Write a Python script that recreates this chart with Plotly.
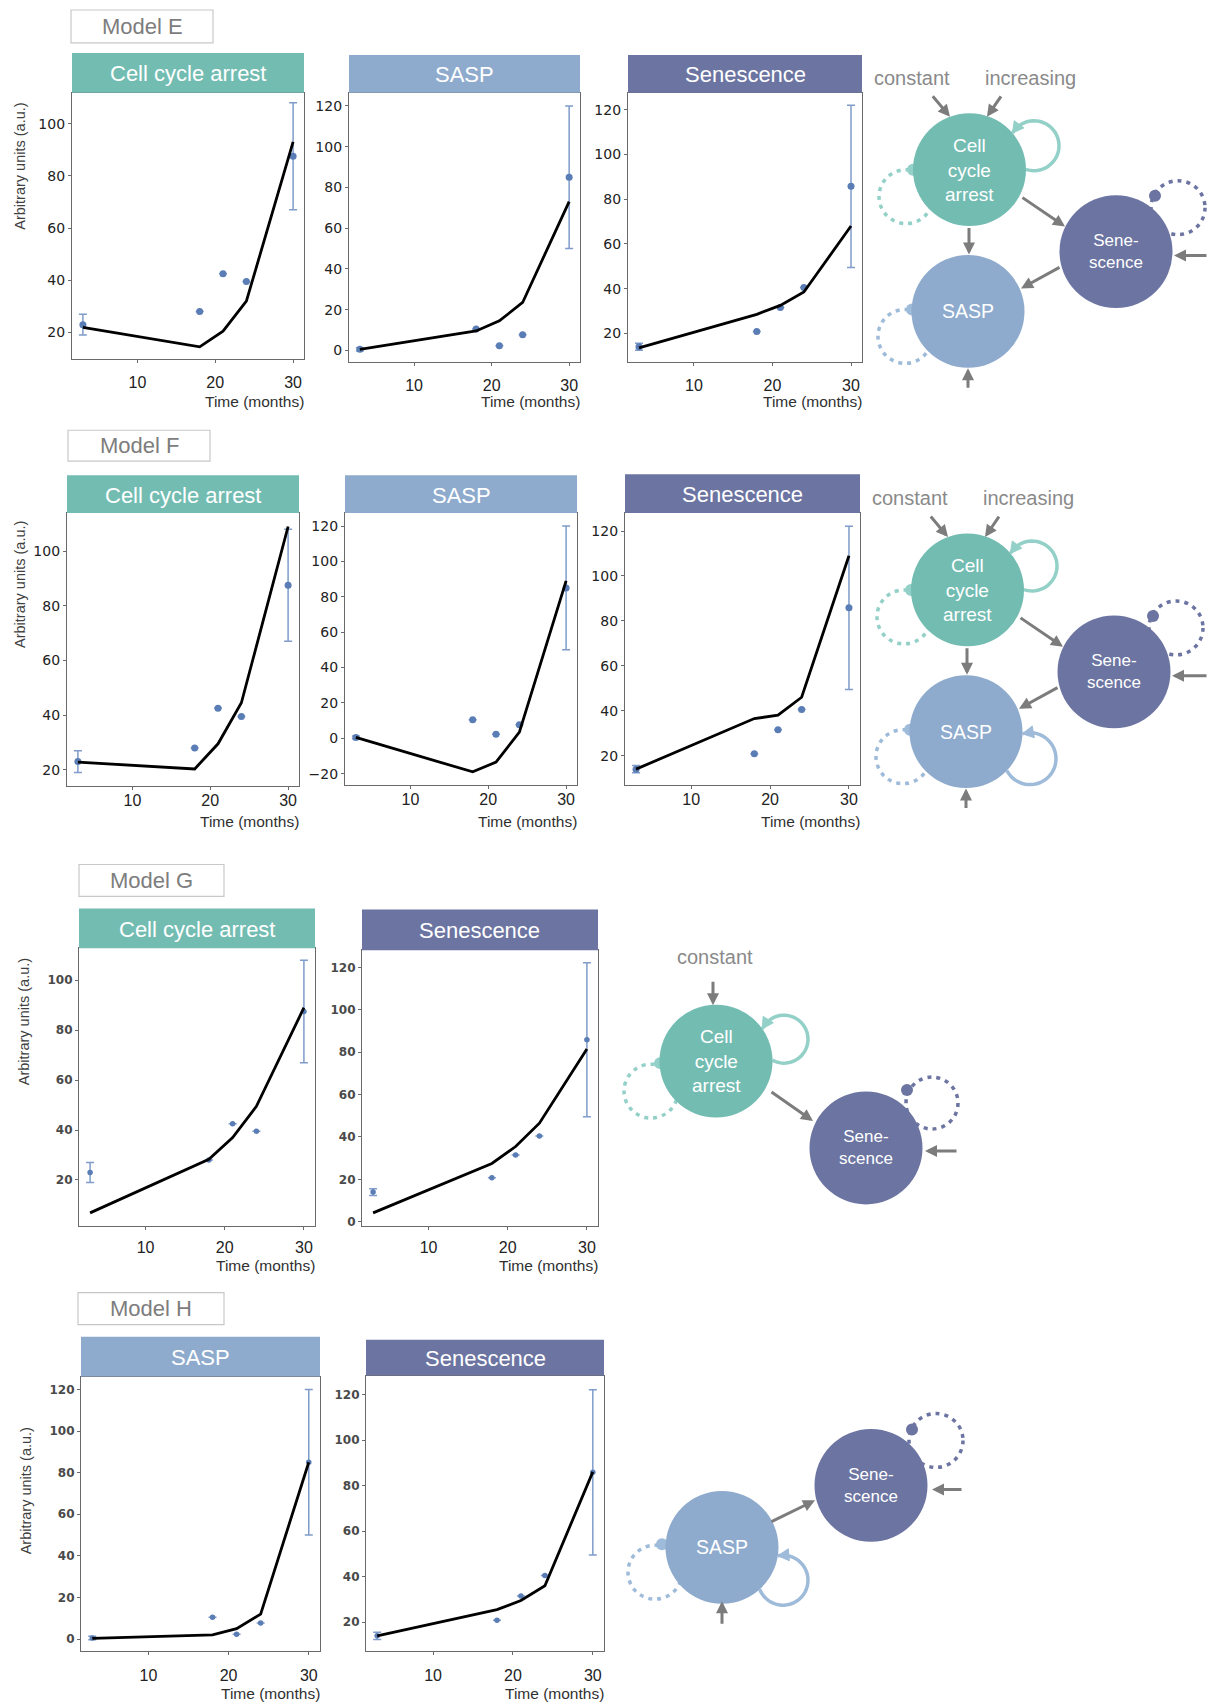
import math
import plotly.graph_objects as go

# ---------------- data ----------------
months = [3, 18, 21, 24, 30]
x_tick_values = [10, 20, 30]

obs_cca = [23.0, 28.0, 42.5, 39.5, 87.5]
obs_cca_err = [4.0, None, None, None, 20.5]
obs_sasp = [0.5, 10.5, 2.3, 7.7, 85.0]
obs_sasp_err = [0.8, None, None, None, 35.0]
obs_sen = [14.0, 20.8, 31.5, 40.5, 85.8]
obs_sen_err = [1.6, None, None, None, 36.3]

fit_E_cca = [22.0, 14.5, 20.5, 32.0, 93.0]
fit_E_sasp = [0.5, 9.5, 14.5, 23.5, 73.0]
fit_E_sen = [13.5, 28.5, 32.5, 38.5, 68.0]
fit_F_cca = [22.8, 20.3, 29.5, 44.5, 109.0]
fit_F_sasp = [0.5, -19.0, -13.5, 3.5, 89.0]
fit_F_sen = [14.0, 36.5, 38.0, 46.0, 109.0]
fit_G_cca = [6.8, 28.3, 37.0, 49.5, 89.0]
fit_G_sen = [4.2, 27.5, 35.5, 46.5, 81.5]
fit_H_sasp = [0.3, 2.0, 5.0, 12.0, 85.0]
fit_H_sen = [14.0, 25.5, 29.5, 36.0, 86.0]

ticks_20_100 = [20, 40, 60, 80, 100]
ticks_0_120 = [0, 20, 40, 60, 80, 100, 120]
ticks_20_120 = [20, 40, 60, 80, 100, 120]
ticks_m20_120 = [-20, 0, 20, 40, 60, 80, 100, 120]

model_names = ["Model E", "Model F", "Model G", "Model H"]
titles = ["Cell cycle arrest", "SASP", "Senescence"]

# ---------------- styling ----------------
W, H = 1208, 1707
C_CCA = "#73bcb2"
C_CCA_L = "#93d0c8"
C_SASP = "#8eabcd"
C_SASP_L = "#9fbbda"
C_SEN = "#6c74a1"
GRAY = "#7c7c7c"
TXT_GRAY = "#8a8a8a"
DOT = "#5a7db5"
ERR = "#7f9cca"
FONT_A = "Liberation Sans, Arial, sans-serif"
FONT_D = "DejaVu Sans, sans-serif"


def PX(x):
    return x / W


def PY(y):
    return 1 - y / H


shapes = []
annotations = []


def rect(x0, y0, x1, y1, fill=None, line=None, lw=0):
    shapes.append(dict(type="rect", xref="paper", yref="paper",
                       x0=PX(x0), x1=PX(x1), y0=PY(y1), y1=PY(y0),
                       fillcolor=fill or "rgba(0,0,0,0)",
                       line=dict(color=line or "rgba(0,0,0,0)", width=lw),
                       layer="above"))


def circle(cx, cy, r, fill=None, line=None, lw=0, dash=None):
    ln = dict(color=line or "rgba(0,0,0,0)", width=lw)
    if dash:
        ln["dash"] = dash
    shapes.append(dict(type="circle", xref="paper", yref="paper",
                       x0=PX(cx - r), x1=PX(cx + r), y0=PY(cy + r), y1=PY(cy - r),
                       fillcolor=fill or "rgba(0,0,0,0)", line=ln, layer="above"))


def path(points, color, lw, fill=None, close=False):
    d = "M " + " L ".join(f"{PX(x):.5f},{PY(y):.5f}" for x, y in points)
    if close:
        d += " Z"
    shapes.append(dict(type="path", xref="paper", yref="paper", path=d,
                       line=dict(color=color, width=lw),
                       fillcolor=fill or "rgba(0,0,0,0)", layer="above"))


def text(x, y, s, size, color, family=FONT_A, xanchor="center", angle=0):
    annotations.append(dict(x=PX(x), y=PY(y), xref="paper", yref="paper", text=s,
                            showarrow=False, xanchor=xanchor, yanchor="middle",
                            textangle=angle,
                            font=dict(size=size, color=color, family=family)))


def arrow(x0, y0, x1, y1):
    annotations.append(dict(x=PX(x1), y=PY(y1), xref="paper", yref="paper",
                            ax=x0 - x1, ay=y0 - y1, axref="pixel", ayref="pixel",
                            text="", showarrow=True, arrowhead=2, arrowsize=0.8,
                            arrowwidth=3, arrowcolor=GRAY, standoff=0))


def loop_arc(node, R, lc, lr, n=40):
    (x0, y0), (x1, y1) = node, lc
    d = math.hypot(x0 - x1, y0 - y1)
    A = math.acos((lr ** 2 + d ** 2 - R ** 2) / (2 * lr * d))
    base = math.atan2(y0 - y1, x0 - x1)
    pts = []
    for k in range(n + 1):
        a = base + A + (2 * math.pi - 2 * A) * k / n
        pts.append((x1 + lr * math.cos(a), y1 + lr * math.sin(a)))
    if pts[0][1] < pts[-1][1]:
        pts = pts[::-1]
    return pts


def arrow_tri(p_from, p_to, color, L=11, w=12):
    ux, uy = p_to[0] - p_from[0], p_to[1] - p_from[1]
    m = math.hypot(ux, uy)
    ux, uy = ux / m, uy / m
    bx, by = p_to[0] - ux * L, p_to[1] - uy * L
    nx, ny = -uy, ux
    path([p_to, (bx + nx * w / 2, by + ny * w / 2), (bx - nx * w / 2, by - ny * w / 2)],
         color, 1, fill=color, close=True)


# ---------------- panels ----------------
XFONT = dict(family=FONT_A, size=16, color="#222")
row_style = {
    "E": dict(xfont=XFONT, yfont=dict(family=FONT_D, size=14, color="#222"),
              standoff=5, msize=7, time_y=402, ylab=(20, 167)),
    "F": dict(xfont=XFONT, yfont=dict(family=FONT_D, size=14, color="#222"),
              standoff=-3, msize=7, time_y=823, ylab=(20, 586)),
    "G": dict(xfont=XFONT, yfont=dict(family=FONT_D, size=12, color="#4a4a4a", weight="bold"),
              standoff=4, msize=5.5, time_y=1268, ylab=(24, 1024)),
    "H": dict(xfont=XFONT, yfont=dict(family=FONT_D, size=12, color="#4a4a4a", weight="bold"),
              standoff=7, msize=5.5, time_y=1696, ylab=(26, 1494)),
}

panels = [
    dict(row="E", title=titles[0], color=C_CCA, obs=obs_cca, err=obs_cca_err, fit=fit_E_cca,
         box=(72, 304, 93, 360), htop=53, yr=(9.7, 111.8), yt=ticks_20_100),
    dict(row="E", title=titles[1], color=C_SASP, obs=obs_sasp, err=obs_sasp_err, fit=fit_E_sasp,
         box=(349, 580, 93, 363), htop=55, yr=(-5.9, 126.4), yt=ticks_0_120),
    dict(row="E", title=titles[2], color=C_SEN, obs=obs_sen, err=obs_sen_err, fit=fit_E_sen,
         box=(628, 862, 93, 363), htop=55, yr=(7.0, 127.6), yt=ticks_20_120),
    dict(row="F", title=titles[0], color=C_CCA, obs=obs_cca, err=obs_cca_err, fit=fit_F_cca,
         box=(67, 299, 514, 787), htop=476, yr=(14.2, 113.9), yt=ticks_20_100),
    dict(row="F", title=titles[1], color=C_SASP, obs=obs_sasp, err=obs_sasp_err, fit=fit_F_sasp,
         box=(345, 577, 514, 786), htop=476, yr=(-26.2, 127.3), yt=ticks_m20_120),
    dict(row="F", title=titles[2], color=C_SEN, obs=obs_sen, err=obs_sen_err, fit=fit_F_sen,
         box=(625, 860, 514, 786), htop=475, yr=(7.1, 128.0), yt=ticks_20_120),
    dict(row="G", title=titles[0], color=C_CCA, obs=obs_cca, err=obs_cca_err, fit=fit_G_cca,
         box=(79, 315, 950, 1228), htop=910, yr=(1.6, 112.8), yt=ticks_20_100),
    dict(row="G", title=titles[2], color=C_SEN, obs=obs_sen, err=obs_sen_err, fit=fit_G_sen,
         box=(362, 598, 952, 1228), htop=911, yr=(-1.9, 128.0), yt=ticks_0_120),
    dict(row="H", title=titles[1], color=C_SASP, obs=obs_sasp, err=obs_sasp_err, fit=fit_H_sasp,
         box=(81, 320, 1379, 1654), htop=1339, yr=(-5.8, 126.2), yt=ticks_0_120),
    dict(row="H", title=titles[2], color=C_SEN, obs=obs_sen, err=obs_sen_err, fit=fit_H_sen,
         box=(366, 604, 1378, 1654), htop=1342, yr=(7.3, 128.3), yt=ticks_20_120),
]

model_boxes = [(71, 10, 213, 43), (68, 431, 210, 462), (79, 866, 224, 898), (78, 1295, 224, 1327)]

fig = go.Figure()
layout = dict(width=W, height=H, margin=dict(l=0, r=0, t=0, b=0),
              paper_bgcolor="white", plot_bgcolor="white", showlegend=False,
              hovermode=False)

first_in_row = {}
for i, p in enumerate(panels, start=1):
    st = row_style[p["row"]]
    xa = "x" if i == 1 else f"x{i}"
    ya = "y" if i == 1 else f"y{i}"
    l, r, t, b = p["box"]
    fig.add_trace(go.Scatter(
        x=months, y=p["obs"], mode="markers", xaxis=xa, yaxis=ya, hoverinfo="skip",
        marker=dict(color=DOT, size=st["msize"]),
        error_y=dict(type="data", array=p["err"], visible=True, color=ERR,
                     thickness=1.5, width=4)))
    fig.add_trace(go.Scatter(
        x=months, y=p["fit"], mode="lines", xaxis=xa, yaxis=ya, hoverinfo="skip",
        line=dict(color="black", width=2.8)))
    axis_common = dict(showline=True, mirror=True, linecolor="#6a6a6a", linewidth=1.2,
                       ticks="outside", ticklen=3, tickwidth=1, tickcolor="#6a6a6a",
                       showgrid=False, zeroline=False, fixedrange=True)
    layout["xaxis" if i == 1 else f"xaxis{i}"] = dict(
        domain=[PX(l), PX(r)], anchor=ya, range=[1.6, 31.4], tickvals=x_tick_values,
        tickfont=st["xfont"], ticklabelstandoff=st["standoff"], **axis_common)
    layout["yaxis" if i == 1 else f"yaxis{i}"] = dict(
        domain=[PY(b), PY(t)], anchor=xa, range=list(p["yr"]), tickvals=p["yt"],
        tickfont=st["yfont"], **axis_common)
    # header band
    rect(l, p["htop"], r, t, fill=p["color"])
    text((l + r) / 2, (p["htop"] + t) / 2 + 1, p["title"], 22, "white")
    # x-axis caption
    text(r + 2, st["time_y"], "Time (months)", 15.5, "#303030", xanchor="right")
    if p["row"] not in first_in_row:
        first_in_row[p["row"]] = True
        xl, yl = st["ylab"]
        text(xl, yl, "Arbitrary units (a.u.)", 14.5, "#404040", angle=-90)

for name, (x0, y0, x1, y1) in zip(model_names, model_boxes):
    rect(x0, y0, x1, y1, line="#c8c8c8", lw=1.2)
    text((x0 + x1) / 2, (y0 + y1) / 2, name, 22, "#7d7d7d")

# ---------------- network diagrams ----------------
R = 56.5
LBL_CCA = "Cell<br>cycle<br>arrest"
LBL_SEN = "Sene-<br>scence"


def node(c, fill, label, size):
    circle(c[0], c[1], R, fill=fill)
    text(c[0], c[1], label, size, "white")


def dotted(c, r, color, dotpos):
    circle(c[0], c[1], r, line=color, lw=3.5, dash="4px,5px")
    circle(dotpos[0], dotpos[1], 6, fill=color)


def diagram_EF(dx, dy, sasp_loop):
    cca = (969.5 + dx, 170 + dy)
    sen = (1116 + dx, 252 + dy)
    sasp = (968 + dx, 312 + dy)
    text(912 + dx, 78 + dy, "constant", 20, TXT_GRAY)
    text(1030 + dx, 78 + dy, "increasing", 20, TXT_GRAY)
    dotted((906 + dx, 197 + dy), 27, C_CCA_L, (913 + dx, 170 + dy))
    dotted((1178 + dx, 208 + dy), 27, C_SEN, (1155 + dx, 196 + dy))
    dotted((905 + dx, 337 + dy), 27, C_SASP_L, (912 + dx, 310 + dy))
    loops = [(cca, (1034 + dx, 146 + dy), 25, C_CCA_L)]
    if sasp_loop:
        loops.append((sasp, (1032 + dx, 339 + dy), 26, C_SASP_L))
    tris = []
    for nc, lc, lr, col in loops:
        pts = loop_arc(nc, R, lc, lr)
        path(pts, col, 3.5)
        tris.append((pts[-3], pts[-1], col))
    node(cca, C_CCA, LBL_CCA, 19)
    node(sen, C_SEN, LBL_SEN, 17)
    node(sasp, C_SASP, "SASP", 19.5)
    for a, b2, col in tris:
        arrow_tri(a, b2, col)
    arrow(931.5 + dx, 95 + dy, 950 + dx, 117 + dy)
    arrow(1002 + dx, 95 + dy, 987 + dx, 117 + dy)
    arrow(1021 + dx, 197 + dy, 1065 + dx, 227 + dy)
    arrow(969 + dx, 227 + dy, 969 + dx, 255 + dy)
    arrow(1061 + dx, 267 + dy, 1021 + dx, 289 + dy)
    arrow(1208, 256 + dy, 1174 + dx, 256 + dy)
    arrow(968 + dx, 390 + dy, 968 + dx, 369 + dy)


diagram_EF(0, 0, False)
diagram_EF(-2, 421, True)

# Model G diagram
cca_g = (716, 1063)
sen_g = (866, 1150)
text(715, 959, "constant", 20, TXT_GRAY)
dotted((651, 1093), 27, C_CCA_L, (660, 1065))
dotted((932, 1105), 26, C_SEN, (907, 1092))
pts_g = loop_arc(cca_g, R, (784, 1041), 24)
path(pts_g, C_CCA_L, 3.5)
node(cca_g, C_CCA, LBL_CCA, 19)
node(sen_g, C_SEN, LBL_SEN, 17)
arrow_tri(pts_g[-3], pts_g[-1], C_CCA_L)
arrow(713, 982, 713, 1007)
arrow(770, 1093, 813, 1123)
arrow(958, 1153, 925, 1153)

# Model H diagram
sasp_h = (722, 1550)
sen_h = (871, 1488)
dotted((936, 1443), 27, C_SEN, (912, 1432))
dotted((655, 1575), 27, C_SASP_L, (662, 1547))
pts_h = loop_arc(sasp_h, R, (783, 1583), 25)
path(pts_h, C_SASP_L, 3.5)
node(sasp_h, C_SASP, "SASP", 19.5)
node(sen_h, C_SEN, LBL_SEN, 17)
arrow_tri(pts_h[-3], pts_h[-1], C_SASP_L)
arrow(770, 1525, 815, 1503)
arrow(963, 1492, 932, 1492)
arrow(722, 1628, 722, 1604)

layout["shapes"] = shapes
layout["annotations"] = annotations
fig.update_layout(**layout)

fig.write_html("out.html", config={"displayModeBar": False},
               post_script="document.body.style.margin='0';")
